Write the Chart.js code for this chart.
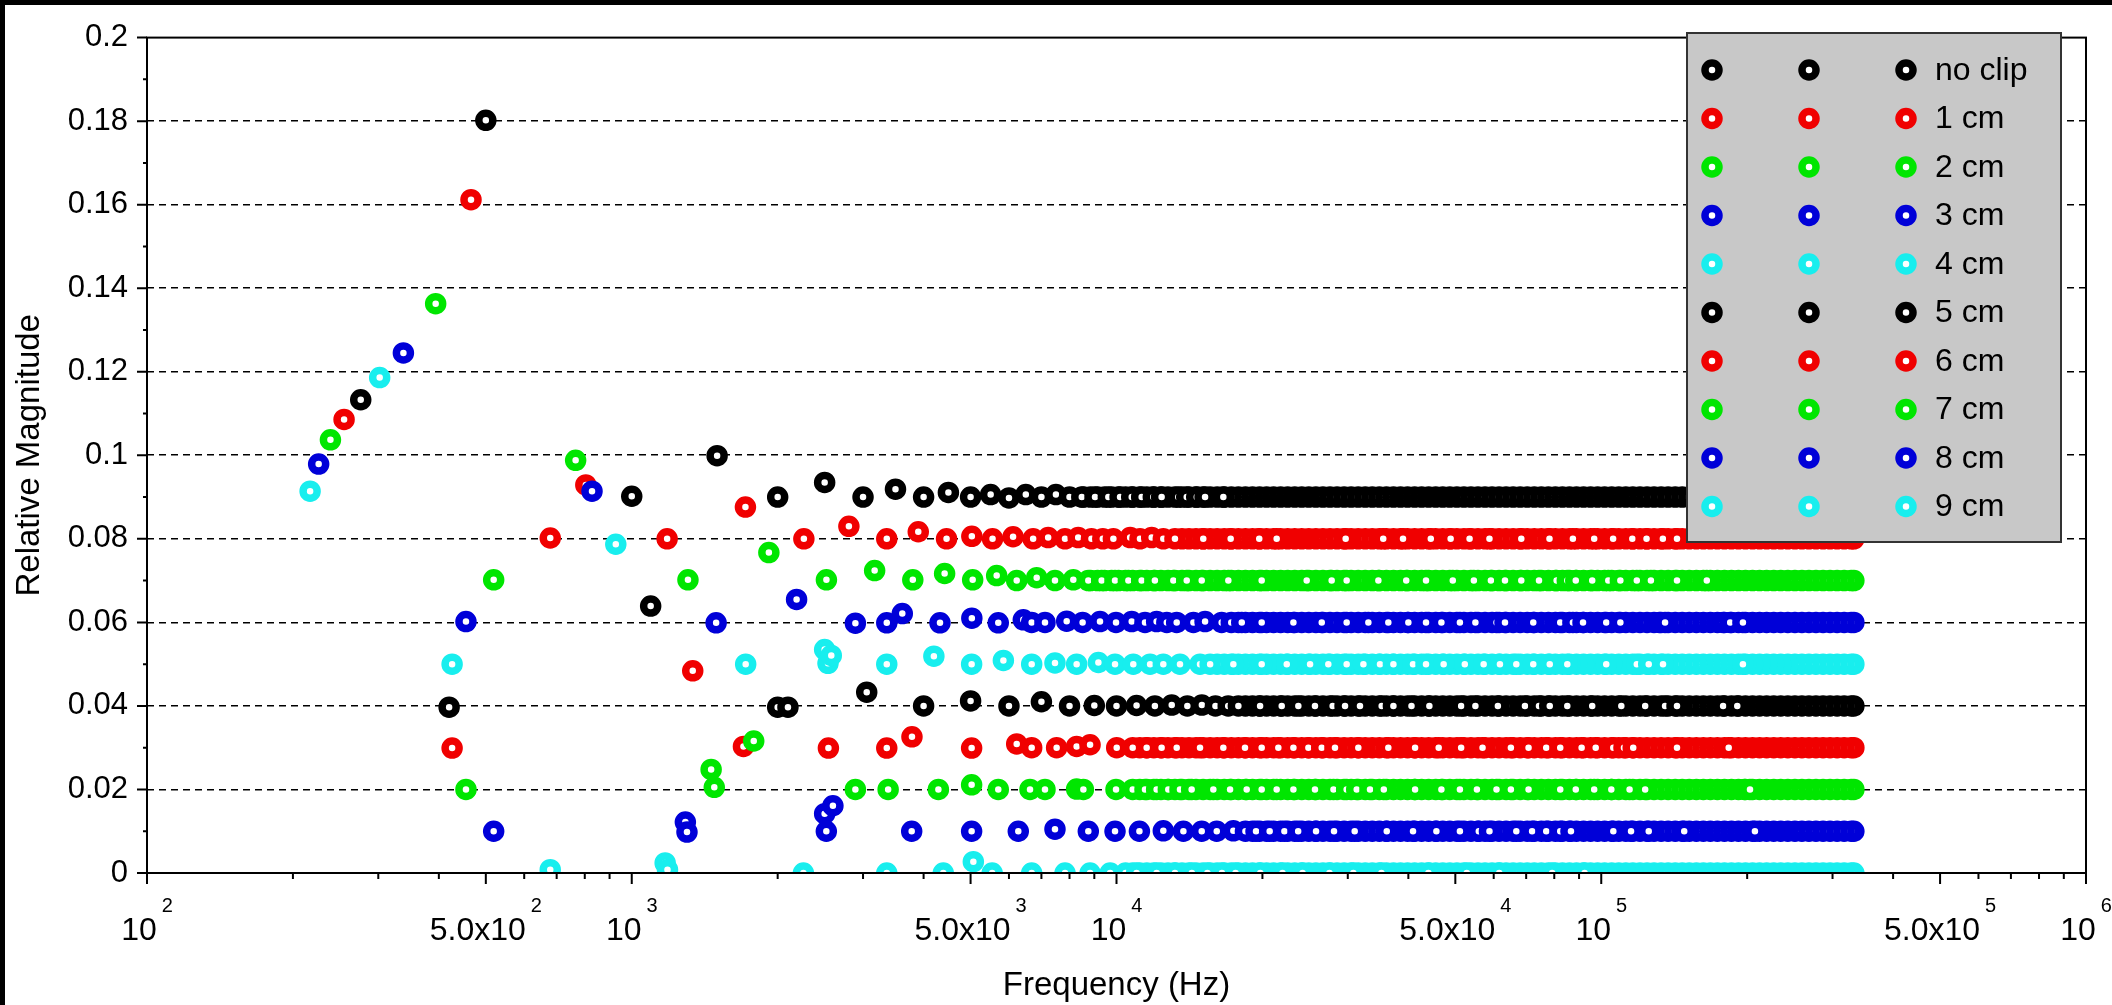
<!DOCTYPE html>
<html>
<head>
<meta charset="utf-8">
<title>Relative Magnitude vs Frequency</title>
<script src="https://cdn.jsdelivr.net/npm/chart.js@4.4.1/dist/chart.umd.min.js"></script>
<style>
  html, body { margin: 0; padding: 0; background: #fff; }
  canvas { display: block; }
</style>
</head>
<body>
<canvas id="chart" width="2112" height="1005"></canvas>
<script>
// ---- data (Hz, relative magnitude) ----
const noClipHz  = [500, 1000, 1500, 2000, 2500, 3000, 3500, 4000, 4500, 5000, 5500, 6000, 6500, 7000, 7500, 8000];
const noClipMag = [0.1802, 0.0902, 0.0999, 0.0900, 0.0935, 0.0900, 0.0919, 0.0900, 0.0911, 0.0900, 0.0906, 0.0898, 0.0906, 0.0900, 0.0906, 0.0900];
const noClipDots = [8480, 9030, 9620, 10170, 10750, 11270, 11910, 12390, 13410, 13960, 14640, 15230, 16610];

const cm1Hz  = [466, 679, 804, 1183, 1716, 2265, 2805, 3358, 3900, 4461, 5030, 5550, 6118, 6730, 7228, 7830, 8336, 8880, 9370, 9852, 10670, 11180, 11820, 12490];
const cm1Mag = [0.1612, 0.0802, 0.0929, 0.0800, 0.0876, 0.0800, 0.0830, 0.0800, 0.0817, 0.0800, 0.0806, 0.0800, 0.0805, 0.0800, 0.0803, 0.0800, 0.0803, 0.0800, 0.0800, 0.0800, 0.0803, 0.0800, 0.0803, 0.0800];
const cm1Dots = [15100, 17200, 19700, 21400, 29700, 35500, 39000, 44500, 48900, 53500, 58800, 68400, 78200, 87400, 96700, 105800, 115900, 124000, 134000, 143300];

const cm2Hz  = [394, 519, 766, 1306, 1918, 2521, 3170, 3800, 4420, 5050, 5660, 6225, 6845, 7466, 8145];
const cm2Mag = [0.1363, 0.0702, 0.0988, 0.0702, 0.0767, 0.0702, 0.0724, 0.0702, 0.0717, 0.0702, 0.0712, 0.0700, 0.0707, 0.0700, 0.0702];
const cm2Dots = [8747, 9320, 9930, 10580, 11270, 12000, 13100, 13960, 14990, 17010, 19930, 24680, 27790, 29840, 34690, 39600, 43500, 49400, 54600, 59200, 63300, 68400, 74400, 80900, 85100, 88600, 95800, 103400, 109500, 118400, 126600, 143300, 165100];

const cm3Hz  = [338, 455, 828, 1493, 2188, 2893, 3358, 3615, 4324, 5030, 5703, 6423, 6684, 7120, 7893, 8513, 9246, 9977, 10750, 11450, 12100, 12700, 13310, 14410, 15230, 16480];
const cm3Mag = [0.1245, 0.0602, 0.0914, 0.0599, 0.0655, 0.0598, 0.0599, 0.0621, 0.0599, 0.0610, 0.0599, 0.0606, 0.0600, 0.0600, 0.0603, 0.0600, 0.0602, 0.0600, 0.0602, 0.0600, 0.0602, 0.0600, 0.0600, 0.0600, 0.0602, 0.0600];
const cm3Dots = [18130, 19930, 23170, 26510, 29840, 33080, 36370, 40000, 43500, 46800, 51100, 55000, 60800, 63300, 72400, 82300, 87400, 91700, 102400, 109500, 131800, 135400, 178400, 184500, 196000];

const cm4Hz  = [302, 426, 927, 1718, 2500, 2540, 2580, 3358, 4200, 5025, 5843, 6684, 7466, 8275, 9175, 9930, 10830, 11730, 12490, 13520, 14870];
const cm4Mag = [0.1186, 0.0500, 0.0787, 0.0500, 0.0535, 0.0502, 0.0521, 0.0500, 0.0519, 0.0500, 0.0509, 0.0500, 0.0503, 0.0500, 0.0504, 0.0500, 0.0500, 0.0500, 0.0500, 0.0500, 0.0500];
const cm4Dots = [17420, 19930, 22450, 25080, 27350, 29840, 32310, 34960, 37260, 40900, 43500, 47300, 52300, 57200, 61800, 66800, 72400, 78300, 85100, 102400, 118400, 125300, 134100, 196000];

const cm5Hz  = [276, 420, 1094, 2000, 2100, 3053, 4000, 5000, 6000, 7000, 8000, 9000, 10000, 11000, 12000, 13000, 14000, 15000, 16000, 17000];
const cm5Mag = [0.1133, 0.0397, 0.0639, 0.0397, 0.0397, 0.0433, 0.0400, 0.0412, 0.0400, 0.0410, 0.0400, 0.0401, 0.0400, 0.0401, 0.0400, 0.0402, 0.0400, 0.0402, 0.0400, 0.0400];
const cm5Dots = [19780, 21920, 23720, 25670, 27920, 29610, 31790, 35240, 37260, 40600, 44200, 51400, 55000, 61200, 69600, 74400, 78300, 85100, 95800, 110000, 123200, 135400, 143300, 178400, 190800];

const cm6Hz  = [255, 426, 1336, 1700, 2545, 3358, 3785, 5025, 6225, 6684, 7525, 8275, 8820, 10010];
const cm6Mag = [0.1086, 0.0299, 0.0484, 0.0303, 0.0299, 0.0299, 0.0326, 0.0299, 0.0309, 0.0300, 0.0300, 0.0303, 0.0307, 0.0300];
const cm6Dots = [11540, 12390, 13310, 14870, 16610, 18410, 19930, 21570, 23170, 24880, 26510, 28230, 31540, 36370, 41300, 46200, 51400, 56900, 65100, 70800, 77000, 82300, 91100, 97400, 105900, 111400, 116400, 143300, 183200];

const cm7Hz  = [239, 455, 1458, 1480, 1785, 2893, 3380, 4291, 5025, 5703, 6631, 7120, 8275, 8544, 9977];
const cm7Mag = [0.1037, 0.0200, 0.0248, 0.0205, 0.0316, 0.0200, 0.0200, 0.0200, 0.0211, 0.0200, 0.0200, 0.0200, 0.0201, 0.0200, 0.0200];
const cm7Dots = [11450, 12100, 12790, 13520, 14290, 15840, 17150, 18560, 19930, 21400, 23170, 25670, 28030, 29840, 31300, 33340, 35600, 41300, 46800, 51100, 55400, 60800, 65100, 70800, 82300, 88600, 96700, 104900, 114400, 123200, 197300, 202700];

const cm8Hz  = [226, 519, 1290, 1300, 2500, 2520, 2600, 3780, 5025, 6272, 7466, 8747, 9930, 11150, 12490, 13740, 14990, 16100, 17420];
const cm8Mag = [0.0979, 0.0100, 0.0122, 0.0098, 0.0142, 0.0100, 0.0161, 0.0100, 0.0100, 0.0100, 0.0105, 0.0100, 0.0100, 0.0100, 0.0101, 0.0100, 0.0100, 0.0100, 0.0101];
const cm8Dots = [19400, 20700, 22200, 23700, 25800, 28100, 31000, 36100, 40900, 45700, 51100, 55900, 58800, 66800, 72000, 77000, 82300, 86600, 105900, 115200, 125300, 148300, 207500];

const cm9Hz  = [217, 679, 1172, 1185, 2260, 3358, 4392, 5066, 5540, 6684, 7831, 8820, 9702];
const cm9Mag = [0.0914, 0.0008, 0.0024, 0.0008, 0.0000, 0.0000, 0.0000, 0.0027, 0.0000, 0.0000, 0.0000, 0.0000, 0.0000];
const cm9Dots = [11000, 12100, 13200, 14300, 15400, 16500, 17600, 19800, 22000, 24200, 27500, 30800, 35200, 44000, 52800, 61600, 79200, 92400];

// flat high-frequency bands: level of each curve and where it turns solid
const bandLevel   = [0.09, 0.08, 0.07, 0.06, 0.05, 0.04, 0.03, 0.02, 0.01, 0.0];
const bandStartHz = [8300, 13000, 8700, 17000, 15500, 17800, 10500, 10500, 17900, 10200];
// frequencies sampled along the flat bands (they all stop near 3.3e5 Hz)
const bandHz = [7000, 7240, 7490, 7740, 8000, 8270, 8550, 8840, 9140, 9450, 9770, 10100, 10440, 10800, 11170, 11550,
  11940, 12350, 12770, 13200, 13650, 14110, 14590, 15090, 15600, 16130, 16680, 17250, 17840, 18450, 19080, 19730,
  20400, 21090, 21810, 22550, 23320, 24110, 24930, 25780, 26660, 27570, 28510, 29480, 30480, 31520, 32590, 33700,
  34850, 36040, 37270, 38540, 39850, 41210, 42610, 44060, 45560, 47110, 48710, 50370, 52080, 53850, 55680, 57570,
  59530, 61550, 63640, 65800, 68040, 70350, 72740, 75220, 77780, 80420, 83160, 85990, 88910, 91940, 95070, 98300,
  101600, 105100, 108700, 112400, 116200, 120200, 124300, 128500, 132900, 137400, 142100, 146900, 151900, 157100,
  162400, 167900, 173600, 179500, 185600, 191900, 198400, 205200, 212200, 219400, 226900, 234600, 242600, 250900,
  259400, 268200, 277300, 286800, 296500, 306600, 317000, 327800, 332000];

const labels = ['no clip', '1 cm', '2 cm', '3 cm', '4 cm', '5 cm', '6 cm', '7 cm', '8 cm', '9 cm'];
const colors = ['#000000', '#f00000', '#00e600', '#0000d8', '#18eeee', '#000000', '#f00000', '#00e600', '#0000d8', '#18eeee'];

// axis ticks
const xMajorTicks = [100, 500, 1000, 5000, 10000, 50000, 100000, 500000, 1000000];
const xTickText = [['10', '2'], ['5.0x10', '2'], ['10', '3'], ['5.0x10', '3'], ['10', '4'], ['5.0x10', '4'], ['10', '5'], ['5.0x10', '5'], ['10', '6']];
const xMinorTicks = [200, 300, 400, 600, 700, 800, 900, 2000, 3000, 4000, 6000, 7000, 8000, 9000,
  20000, 30000, 40000, 60000, 70000, 80000, 90000, 200000, 300000, 400000, 600000, 700000, 800000, 900000];
const yMajorTicks = [0, 0.02, 0.04, 0.06, 0.08, 0.1, 0.12, 0.14, 0.16, 0.18, 0.2];
const yMinorTicks = [0.01, 0.03, 0.05, 0.07, 0.09, 0.11, 0.13, 0.15, 0.17, 0.19];

const FONT = '"Liberation Sans", Arial, sans-serif';

const hzLists  = [noClipHz, cm1Hz, cm2Hz, cm3Hz, cm4Hz, cm5Hz, cm6Hz, cm7Hz, cm8Hz, cm9Hz];
const magLists = [noClipMag, cm1Mag, cm2Mag, cm3Mag, cm4Mag, cm5Mag, cm6Mag, cm7Mag, cm8Mag, cm9Mag];
const dotLists = [noClipDots, cm1Dots, cm2Dots, cm3Dots, cm4Dots, cm5Dots, cm6Dots, cm7Dots, cm8Dots, cm9Dots];

function buildPoints(i) {
  const pts = hzLists[i].map((f, k) => ({x: f, y: magLists[i][k]}));
  // band drawn right-to-left so the solid part stays solid
  const band = bandHz.filter(f => f >= bandStartHz[i]).reverse().map(f => ({x: f, y: bandLevel[i]}));
  const dots = dotLists[i].map(f => ({x: f, y: bandLevel[i]}));
  return pts.concat(band, dots);
}

const datasets = labels.map((lab, i) => ({
  label: lab,
  data: buildPoints(i),
  order: 9 - i,
  pointStyle: 'circle',
  pointRadius: 7,
  pointHoverRadius: 7,
  pointBorderWidth: 7.5,
  pointHoverBorderWidth: 7.5,
  pointBorderColor: colors[i],
  pointBackgroundColor: '#ffffff',
  borderColor: colors[i],
  backgroundColor: '#ffffff',
  clip: 0
}));

const decorPlugin = {
  id: 'decor',
  beforeDraw(chart) {
    const ctx = chart.ctx;
    ctx.save();
    ctx.fillStyle = '#ffffff';
    ctx.fillRect(0, 0, chart.width, chart.height);
    ctx.fillStyle = '#000000';
    ctx.fillRect(0, 0, 5, chart.height);
    ctx.fillRect(0, 0, chart.width, 5);
    ctx.restore();
  },
  afterDatasetsDraw(chart) {
    const {ctx, chartArea: a, scales: {x, y}} = chart;
    ctx.save();
    ctx.strokeStyle = '#000';
    ctx.lineWidth = 2;
    ctx.strokeRect(a.left, a.top, a.right - a.left, a.bottom - a.top);
    ctx.beginPath();
    yMajorTicks.forEach(v => { const py = y.getPixelForValue(v); ctx.moveTo(a.left - 10, py); ctx.lineTo(a.left, py); });
    yMinorTicks.forEach(v => { const py = y.getPixelForValue(v); ctx.moveTo(a.left - 4, py); ctx.lineTo(a.left, py); });
    xMajorTicks.forEach(v => { const px = x.getPixelForValue(v); ctx.moveTo(px, a.bottom); ctx.lineTo(px, a.bottom + 11); });
    xMinorTicks.forEach(v => { const px = x.getPixelForValue(v); ctx.moveTo(px, a.bottom); ctx.lineTo(px, a.bottom + 6); });
    ctx.stroke();
    ctx.restore();
  },
  afterDraw(chart) {
    const {ctx, chartArea: a, scales: {x}} = chart;
    ctx.save();
    ctx.fillStyle = '#000';
    ctx.textAlign = 'left';
    ctx.textBaseline = 'alphabetic';

    // x tick labels with raised exponent
    xMajorTicks.forEach((v, i) => {
      const [base, sup] = xTickText[i];
      ctx.font = '32px ' + FONT;
      const wb = ctx.measureText(base).width;
      ctx.font = '20px ' + FONT;
      const ws = ctx.measureText(sup).width;
      const gap = 5;
      const start = x.getPixelForValue(v) - (wb + gap + ws) / 2;
      ctx.font = '32px ' + FONT;
      ctx.fillText(base, start, a.bottom + 67);
      ctx.font = '20px ' + FONT;
      ctx.fillText(sup, start + wb + gap, a.bottom + 39);
    });

    // axis titles
    ctx.font = '33px ' + FONT;
    ctx.textAlign = 'center';
    ctx.fillText('Frequency (Hz)', (a.left + a.right) / 2, a.bottom + 122);
    ctx.save();
    ctx.translate(30, (a.top + a.bottom) / 2);
    ctx.rotate(-Math.PI / 2);
    ctx.textBaseline = 'middle';
    ctx.fillText('Relative Magnitude', 0, 0);
    ctx.restore();

    // legend box
    const lx = 1687, ly = 33, lw = 374, lh = 509;
    ctx.fillStyle = '#c8c8c8';
    ctx.fillRect(lx, ly, lw, lh);
    ctx.strokeStyle = '#333';
    ctx.lineWidth = 2;
    ctx.strokeRect(lx, ly, lw, lh);
    const cols = [1712, 1809, 1906];
    ctx.font = '32px ' + FONT;
    ctx.textAlign = 'left';
    ctx.textBaseline = 'middle';
    labels.forEach((lab, i) => {
      const ry = 70 + i * 48.5;
      cols.forEach(cx => {
        ctx.beginPath();
        ctx.arc(cx, ry, 7, 0, Math.PI * 2);
        ctx.fillStyle = '#fff';
        ctx.fill();
        ctx.lineWidth = 7.5;
        ctx.strokeStyle = colors[i];
        ctx.stroke();
      });
      ctx.fillStyle = '#000';
      ctx.fillText(lab, 1935, ry + 1);
    });
    ctx.restore();
  }
};

new Chart(document.getElementById('chart'), {
  type: 'scatter',
  data: {datasets: datasets},
  options: {
    responsive: false,
    animation: false,
    events: [],
    layout: {padding: {left: 0, top: 25, right: 26, bottom: 0}},
    plugins: {legend: {display: false}, tooltip: {enabled: false}},
    scales: {
      x: {
        type: 'logarithmic',
        min: 100,
        max: 1000000,
        ticks: {display: false},
        grid: {display: false},
        border: {display: false},
        afterFit: s => { s.height = 132; }
      },
      y: {
        type: 'linear',
        min: 0,
        max: 0.2,
        ticks: {
          stepSize: 0.02,
          color: '#000',
          padding: 19,
          font: {family: FONT, size: 31},
          callback: v => parseFloat(v.toFixed(2)).toString()
        },
        grid: {
          drawTicks: false,
          lineWidth: 1.6,
          color: c => (c.tick && c.tick.value > 0.001 && c.tick.value < 0.199) ? '#000' : 'rgba(0,0,0,0)'
        },
        border: {display: false, dash: [7, 5]},
        afterFit: s => { s.width = 147; }
      }
    }
  },
  plugins: [decorPlugin]
});
</script>
</body>
</html>
